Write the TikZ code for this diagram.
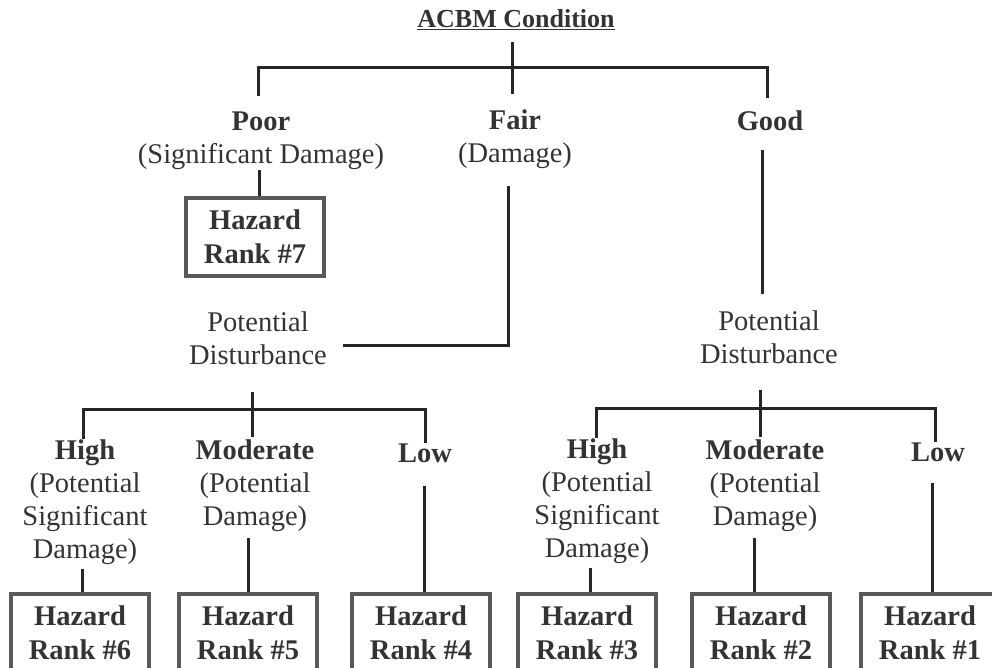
\documentclass[tikz,border=0pt]{standalone}
\usepackage{fontspec}
\setmainfont{Liberation Serif}
\begin{document}
\begin{tikzpicture}[x=1pt,y=-1pt,
  conn/.style={draw=black!85,line width=3pt},
  lbl/.style={text=black!80,inner sep=0pt,align=center,font=\fontsize{28.5}{33}\selectfont},
  rank/.style={draw=black!65,line width=3.5pt,fill=white,minimum width=138pt,minimum height=78pt,
    inner sep=0pt,align=center,text=black!80,font=\fontsize{28.5}{34}\selectfont\bfseries}]
  \useasboundingbox (0,0) rectangle (992,667);
  \clip (0,0) rectangle (992,667);
  % condition level
  \node[lbl,font=\fontsize{26}{28}\selectfont\bfseries] (cond) at (516,20) {\underline{ACBM Condition}};
  \node[lbl] (poor) at (261,141) {\textbf{Poor}\\(Significant Damage)};
  \node[lbl] (fair) at (515,139) {\textbf{Fair}\\(Damage)};
  \node[lbl] (good) at (770,121) {\textbf{Good}};
  \node[rank] (r7) at (255,237) {Hazard\\Rank \#7};
  % disturbance level
  \node[lbl] (pdl) at (258,338) {Potential\\Disturbance};
  \node[lbl] (pdr) at (769,337) {Potential\\Disturbance};
  \node[lbl] (hil) at (85,502) {\textbf{High}\\(Potential\\Significant\\Damage)};
  \node[lbl] (mol) at (255,486) {\textbf{Moderate}\\(Potential\\Damage)};
  \node[lbl] (lol) at (425,453) {\textbf{Low}};
  \node[lbl] (hir) at (597,501) {\textbf{High}\\(Potential\\Significant\\Damage)};
  \node[lbl] (mor) at (765,486) {\textbf{Moderate}\\(Potential\\Damage)};
  \node[lbl] (lor) at (938,452) {\textbf{Low}};
  % ranks
  \node[rank] (r6) at (80,633) {Hazard\\Rank \#6};
  \node[rank] (r5) at (248,633) {Hazard\\Rank \#5};
  \node[rank] (r4) at (421,633) {Hazard\\Rank \#4};
  \node[rank] (r3) at (587,633) {Hazard\\Rank \#3};
  \node[rank] (r2) at (761,633) {Hazard\\Rank \#2};
  \node[rank] (r1) at (930,633) {Hazard\\Rank \#1};
  % top tree
  \draw[conn] ([xshift=-4pt,yshift=-12pt]cond.south) -- ([xshift=-4pt,yshift=15pt]cond.south |- fair.north);
  \draw[conn] ([xshift=-3pt,yshift=16pt]poor.north) -- ++(0,-28) -| ([xshift=-3pt,yshift=13pt]good.north);
  \draw[conn] ([xshift=-2pt]poor.south) -- ([xshift=-2pt]poor.south |- r7.north);
  \draw[conn] ([xshift=-7pt,yshift=-17pt]fair.south) |- ([xshift=16pt,yshift=-7pt]pdl.east);
  \draw[conn] ([xshift=-8pt,yshift=-19pt]good.south) -- ([xshift=-8pt,yshift=16pt]good.south |- pdr.north);
  % left subtree
  \draw[conn] ([xshift=-6pt,yshift=-27pt]pdl.south) -- ([xshift=-3pt,yshift=3pt]mol.north);
  \draw[conn] ([xshift=-2pt]hil.north) -- ++(0,-30) -| (lol.north);
  \draw[conn] ([xshift=-3pt,yshift=-4pt]hil.south) -- ([xshift=-3pt]hil.south |- r6.north);
  \draw[conn] ([xshift=-7pt,yshift=-6pt]mol.south) -- ([xshift=-7pt]mol.south |- r5.north);
  \draw[conn] ([xshift=-1pt,yshift=-23pt]lol.south) -- ([xshift=-1pt]lol.south |- r4.north);
  % right subtree
  \draw[conn] ([xshift=-9pt,yshift=-26pt]pdr.south) -- ([xshift=-5pt,yshift=3pt]mor.north);
  \draw[conn] ([xshift=-1pt]hir.north) -- ++(0,-30) -| ([xshift=-3pt]lor.north);
  \draw[conn] ([xshift=-7pt,yshift=-4pt]hir.south) -- ([xshift=-7pt]hir.south |- r3.north);
  \draw[conn] ([xshift=-11pt,yshift=-6pt]mor.south) -- ([xshift=-11pt]mor.south |- r2.north);
  \draw[conn] ([xshift=-6pt,yshift=-21pt]lor.south) -- ([xshift=-6pt]lor.south |- r1.north);
\end{tikzpicture}
\end{document}
